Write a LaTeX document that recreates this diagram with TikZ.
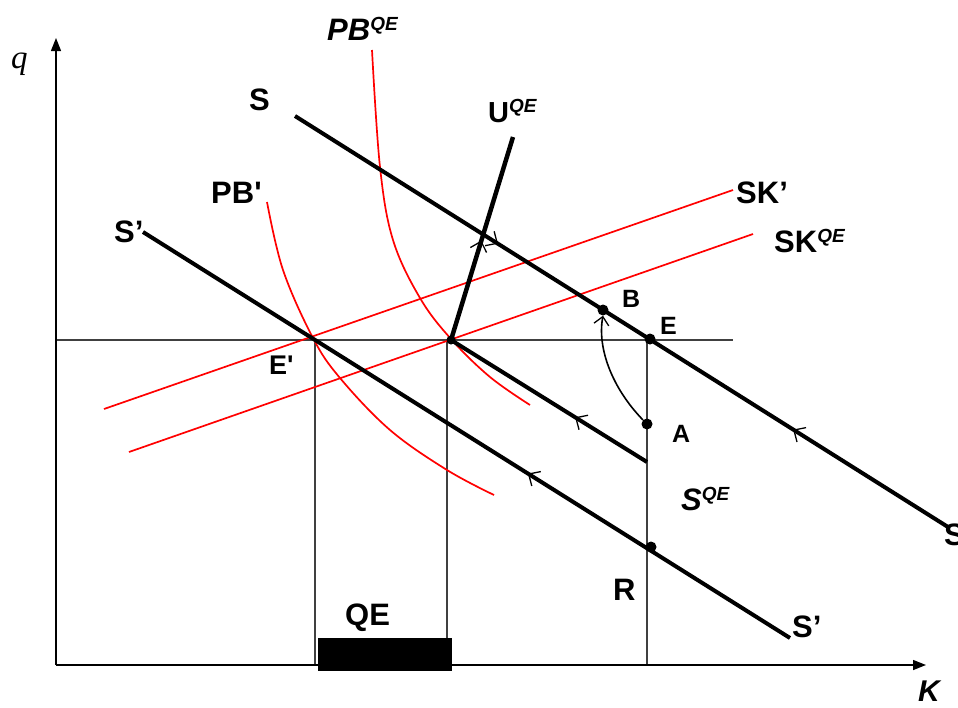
\documentclass[tikz,border=0pt]{standalone}
\usepackage{fontspec}
\setmainfont{Liberation Sans}
\newfontfamily\seriffont{Liberation Serif}
\usetikzlibrary{arrows.meta,decorations.markings}
\tikzset{
  thickline/.style={line width=4pt,black},
  redline/.style={red,line width=1.7pt},
  thinline/.style={line width=1.3pt,black!75},
  axisline/.style={line width=1.4pt,black,-{Triangle[length=13pt,width=10pt]}},
  dotnode/.style={circle,fill=black,inner sep=0pt,minimum size=11pt},
  biglab/.style={font=\fontsize{31}{34}\selectfont\bfseries,anchor=base west,inner sep=0pt},
  smalllab/.style={font=\fontsize{25}{28}\selectfont\bfseries,anchor=base west,inner sep=0pt},
  barb/.tip={Straight Barb[length=9pt,width=17pt,line width=1.3pt]},
  fwdarrow/.style={postaction={decorate,decoration={markings,mark=at position #1 with {\arrow{barb}}}}},
  revarrow/.style={postaction={decorate,decoration={markings,mark=at position #1 with {\arrowreversed{barb}}}}},
}
\newcommand{\supQE}{\textsuperscript{\fontsize{19}{20}\selectfont\itshape QE}}
\newcommand{\straightquote}{\XeTeXglyph\XeTeXglyphindex "quotesingle"\relax}
\begin{document}
\begin{tikzpicture}[x=1pt,y=-1pt]
\useasboundingbox (0,0) rectangle (958,707);
% key coordinates
\coordinate (O) at (56,665);
\coordinate (Ytip) at (56,38);
\coordinate (Xtip) at (926,665);
\coordinate (Hend) at (733,340);
\coordinate (Hstart) at (56,340);
\coordinate (Ep) at (315,340);
\coordinate (Eq) at (451,340);
\coordinate (Ebot) at (315,665);
\coordinate (Eqbot) at (447,665);
\coordinate (Vtop) at (647,340);
\coordinate (Vbot) at (647,665);
\coordinate (Sa) at (295,116);
\coordinate (Sb) at (948,527);
\coordinate (Spa) at (143,232);
\coordinate (Spb) at (790,638);
\coordinate (SQb) at (647,462);
\coordinate (Utop) at (513,137);
\coordinate (SKpa) at (104,409);
\coordinate (SKpb) at (733,190);
\coordinate (SKqa) at (129,452);
\coordinate (SKqb) at (753,234);
% thin lines
\draw[thinline] (Hstart) -- (Hend);
\draw[thinline] (Ep) -- (Ebot);
\draw[thinline] (Eqbot |- Eq) -- (Eqbot);
\draw[thinline] (Vtop) -- (Vbot);
% axes
\draw[axisline] (O) -- (Ytip);
\draw[axisline] (O) -- (Xtip);
% QE bar
\fill[black] (318,638) rectangle (452,671);
% red lines
\draw[redline] (SKpa) -- (SKpb);
\draw[redline] (SKqa) -- (SKqb);
\draw[redline] plot[smooth,tension=0.6] coordinates {(267,202) (283,270) (313,338) (340,378) (390,430) (447,470) (494,495)};
\draw[redline] plot[smooth,tension=0.6] coordinates {(372,50) (380,167) (393,240) (420,298) (451,339) (490,377) (530,405)};
% black lines
\draw[thickline,fwdarrow=0.311,revarrow=0.763] (Sa) -- (Sb);
\draw[thickline,revarrow=0.595] (Spa) -- (Spb);
\draw[thickline,revarrow=0.633] (Eq) -- (SQb);
\draw[thickline,line width=4.5pt,fwdarrow=0.49] (Eq) -- (Utop);
% dots
\node[dotnode] (B) at (603,310) {};
\node[dotnode] (E) at (650,339) {};
\node[dotnode] (A) at (647,424) {};
\node[dotnode] (R) at (651,547) {};
\node[dotnode,minimum size=9pt] (Edot) at (Eq) {};
% curved arrow A -> B
\draw[line width=1.6pt,-{Straight Barb[length=8pt,width=15pt,line width=1.3pt]}] (A.north west) .. controls (612,388) and (597,348) .. (B.south);
% labels
\node[anchor=base west,inner sep=0pt,font=\fontsize{33}{36}\selectfont\seriffont\itshape] (qlab) at (11,68) {q};
\node[biglab,font=\fontsize{30}{32}\selectfont\bfseries\itshape] (Klab) at (918,701) {K};
\node[biglab] (Slab) at (249,110) {S};
\node[biglab] (Slab2) at (944,545) {S};
\node[biglab] (Splab) at (114,242) {S’};
\node[biglab] (Splab2) at (792,637) {S’};
\node[biglab] (PBplab) at (211,203) {PB\straightquote};
\node[biglab,font=\fontsize{31}{34}\selectfont\bfseries\itshape] (PBqlab) at (327,40) {PB\supQE};
\node[biglab,font=\fontsize{29}{32}\selectfont\bfseries] (Ulab) at (488,122) {U\supQE};
\node[biglab] (SKplab) at (736,203) {SK’};
\node[biglab] (SKqlab) at (774,252) {SK\supQE};
\node[biglab,font=\fontsize{31}{34}\selectfont\bfseries\itshape] (SQlab) at (681,510) {S\supQE};
\node[smalllab] (Blab) at (622,307) {B};
\node[smalllab] (Elab) at (660,334) {E};
\node[smalllab,font=\fontsize{27}{30}\selectfont\bfseries] (Eplab) at (269,374) {E\straightquote};
\node[smalllab] (Alab) at (672,442) {A};
\node[biglab] (Rlab) at (613,600) {R};
\node[biglab] (QElab) at (345,625) {QE};
\end{tikzpicture}
\end{document}
